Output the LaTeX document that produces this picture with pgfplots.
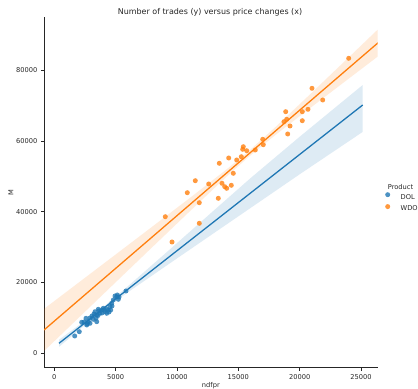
\documentclass[border=0pt]{standalone}
\usepackage{fontspec}
\setmainfont{DejaVu Sans}
\usepackage{pgfplots}
\pgfplotsset{compat=1.18}
\definecolor{dolblue}{HTML}{1F77B4}
\definecolor{wdoorange}{HTML}{FF7F0E}
\definecolor{axgray}{HTML}{262626}

\begin{document}
\begin{tikzpicture}[x=1bp,y=1bp]
\begin{axis}[
  at={(44bp,21.3bp)}, anchor=south west,
  scale only axis, width=333.7bp, height=351bp,
  xmin=-840, xmax=26357, ymin=-4070, ymax=95085,
  axis x line*=bottom, axis y line*=left,
  axis line style={axgray, line width=0.6bp},
  xtick={0,5000,...,25000}, ytick={0,20000,...,80000},
  tick align=outside, major tick length=3bp,
  tick style={axgray, line width=0.6bp},
  scaled ticks=false,
  /pgf/number format/1000 sep={},
  /pgf/number format/assume math mode=true,
  ticklabel style={font=\fontsize{6.7}{8}\selectfont, text=axgray},
  xlabel={ndfpr}, ylabel={M},
  label style={font=\fontsize{6.7}{8}\selectfont, text=axgray},
  xlabel style={at={(axis description cs:0.5,-0.0521)}, anchor=center},
  ylabel style={at={(axis description cs:-0.0989,0.5)}, anchor=center},
  legend style={at={(axis description cs:1.0219,0.5006)}, anchor=north west,
    draw=none, fill=none, inner sep=0pt, row sep=4bp,
    font=\fontsize{6.7}{8}\selectfont, text=axgray,
    nodes={inner sep=0pt, text height=5bp, text depth=1bp},
    /tikz/every odd column/.append style={column sep=10.5bp}},
  legend cell align=left,
  legend image code/.code={\draw[#1] plot coordinates {(1bp,2.4bp)};},
  dolpts/.style={only marks, mark=*, mark size=2.5bp, color=dolblue,
    mark options={solid, fill=dolblue, fill opacity=0.8, draw opacity=0}},
  wdopts/.style={only marks, mark=*, mark size=2.5bp, color=wdoorange,
    mark options={solid, fill=wdoorange, fill opacity=0.8, draw opacity=0}},
]

% DOL: observations, confidence band, fitted line
\addplot[dolpts] coordinates {
(1663,4887) (2037,6102) (2233,8757) (2421,8842) (2584,9887) (2641,7994)
(2689,8277) (2771,8927) (2910,8475) (2910,9972) (3073,10537) (3178,9605)
(3236,11102) (3317,11751) (3399,9887) (3456,10819) (3456,8927) (3561,10678)
(3586,12429) (3643,11949) (3725,11299) (3863,12232) (3888,11384) (3993,12712)
(4051,12232) (4132,11751) (4271,12429) (4271,11299) (4401,12232) (4458,11667)
(4540,13164) (4597,12232) (4678,14124) (4703,13362) (4808,15056) (4947,16186)
(5086,15989) (5134,16469) (5216,15254) (5273,15904) (5843,17599)
};
\addlegendentry{DOL}
\addplot[forget plot, draw=none, fill=dolblue, fill opacity=0.15] coordinates {
(383,3825) (2000,7922) (3800,12518) (6000,18951) (9430,29379) (13000,40338)
(16000,49497) (20000,61175) (25135,75790)
(25135,62540) (20000,50575) (16000,41067) (13000,33938) (9430,25449)
(6000,17251) (3800,11718) (2000,6522) (383,1825)
};
\addplot[forget plot, dolblue, line width=1.3bp] coordinates {
(383,2825) (25135,70140)
};

% WDO: observations, confidence band, fitted line
\addplot[wdopts] coordinates {
(23993,83333) (21002,74859) (21874,71554) (20676,68927) (20212,68249)
(20212,65706) (18859,68249) (18940,66102) (18720,65424) (19210,64209)
(19022,61949) (16985,60452) (17033,58927) (16381,57429) (15680,57232)
(15403,58362) (15354,57627) (15240,55537) (14866,54605) (14214,55169)
(13447,53672) (14588,50847) (13667,48023) (13888,47062) (14051,46610)
(14425,47458) (12583,47825) (11491,48757) (10839,45367) (11817,42542)
(13366,43785) (9046,38588) (11817,36723) (9593,31441)
};
\addlegendentry{WDO}
\addplot[forget plot, draw=none, fill=wdoorange, fill opacity=0.15] coordinates {
(-840,12540) (2000,20009) (5000,27904) (8000,35813) (11000,43755)
(14000,51836) (15838,57082) (18000,63832) (21000,73660) (24000,83603)
(26500,91913)
(26500,84197) (24000,77607) (21000,69670) (18000,61618) (15838,55482)
(14000,49774) (11000,39975) (8000,30037) (5000,20066) (2000,10081)
(-840,624)
};
\addplot[forget plot, wdoorange, line width=1.3bp] coordinates {
(-840,6582) (26500,88055)
};
\end{axis}
\node[anchor=center, font=\fontsize{8}{9.6}\selectfont, text=axgray]
  at (210,377) {Number of trades (y) versus price changes (x)};
\node[anchor=west, inner sep=0pt, font=\fontsize{6.7}{8}\selectfont, text=axgray]
  at (387.7,202.3) {Product};
\pgfresetboundingbox
\useasboundingbox (0,0) rectangle (418,389);
\end{tikzpicture}
\end{document}
